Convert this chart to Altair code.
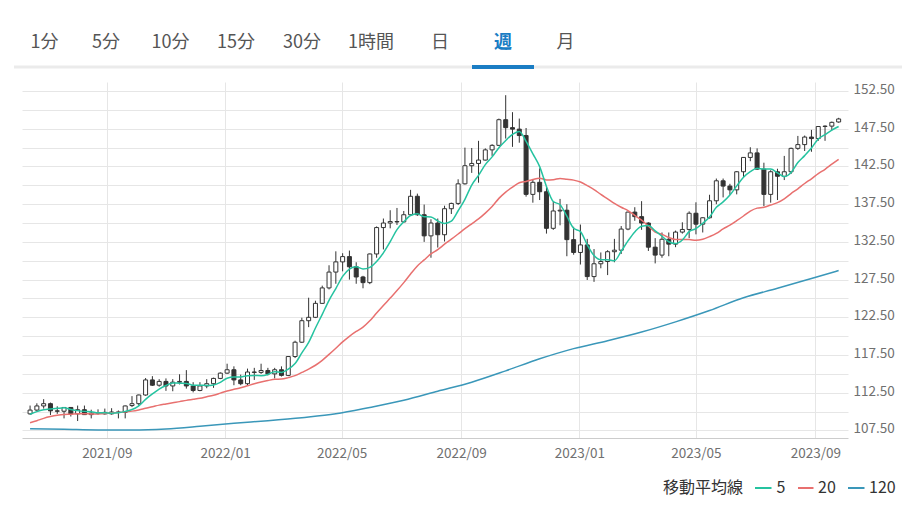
import altair as alt
import pandas as pd

FONT = "Noto Sans CJK JP"

# weekly candles (Monday of each week)
dates = [d.strftime("%Y-%m-%dT00:00:00Z") for d in pd.date_range("2021-06-14", periods=120, freq="7D")]

opens = [109.7, 110.2, 110.75, 111.05, 110.1, 110.05, 110.55, 109.7, 110.25, 109.6,
         109.8, 109.9, 109.7, 109.95, 109.9, 110.8, 111.05, 112.2, 114.2, 113.5,
         114.0, 113.4, 113.9, 114.0, 113.4, 112.8, 113.4, 113.7, 114.4, 115.1,
         115.55, 114.2, 113.7, 115.25, 115.2, 115.45, 115.0, 115.55, 114.8, 117.3,
         119.2, 122.05, 122.5, 124.35, 126.4, 128.5, 129.85, 130.55, 129.2, 127.85,
         127.1, 130.9, 134.4, 135.0, 135.2, 135.15, 136.1, 138.55, 136.1, 133.3,
         135.0, 133.45, 136.9, 137.6, 140.2, 142.6, 142.9, 143.35, 144.7, 145.3,
         148.7, 147.65, 147.45, 146.6, 138.8, 140.4, 139.15, 134.3, 136.6, 136.7,
         132.8, 131.1, 132.1, 127.9, 129.6, 129.9, 131.2, 131.4, 134.2, 136.45,
         135.85, 135.0, 131.8, 130.75, 132.85, 132.2, 133.8, 134.15, 136.3, 134.85,
         135.7, 137.95, 140.6, 139.9, 139.4, 141.8, 143.7, 144.3, 142.15, 138.8,
         141.8, 141.2, 141.8, 144.9, 145.4, 146.4, 146.2, 147.8, 147.85, 148.4]
highs = [110.8, 111.1, 111.65, 111.2, 110.7, 110.6, 110.6, 110.8, 110.8, 110.25,
         110.3, 110.4, 110.45, 110.15, 110.8, 112.05, 112.25, 114.45, 114.7, 114.3,
         114.4, 114.3, 114.95, 115.5, 113.9, 113.9, 114.3, 114.5, 115.2, 116.35,
         116.0, 114.9, 115.7, 115.8, 116.35, 115.8, 115.8, 116.0, 117.35, 119.4,
         122.45, 125.1, 124.7, 126.7, 129.4, 131.25, 131.0, 131.35, 129.8, 128.0,
         130.95, 134.55, 135.6, 136.7, 137.0, 136.6, 139.4, 138.9, 137.45, 135.5,
         135.6, 137.3, 137.7, 140.8, 145.0, 144.95, 145.9, 144.9, 145.45, 148.85,
         151.95, 149.7, 148.85, 147.6, 140.8, 142.25, 139.9, 137.85, 138.2, 137.5,
         134.5, 134.8, 132.9, 131.55, 131.1, 131.4, 132.9, 134.6, 136.5, 137.1,
         137.9, 135.1, 133.0, 133.75, 133.75, 134.0, 135.1, 136.55, 137.75, 135.75,
         138.75, 140.9, 140.9, 140.2, 141.9, 143.75, 145.05, 144.9, 143.0, 142.0,
         142.2, 143.9, 145.0, 146.55, 146.6, 147.35, 147.85, 147.95, 148.45, 148.95]
lows = [109.6, 110.1, 110.4, 109.55, 109.7, 109.1, 109.35, 108.75, 109.55, 109.1,
        109.6, 109.6, 109.6, 109.1, 109.1, 110.6, 110.8, 112.1, 113.4, 113.3,
        112.75, 112.7, 113.6, 113.05, 112.55, 112.7, 113.1, 113.15, 114.3, 115.0,
        113.5, 113.5, 113.5, 114.2, 115.0, 114.8, 114.4, 114.65, 114.7, 117.1,
        119.1, 121.2, 122.4, 124.3, 126.2, 126.95, 128.6, 127.5, 126.95, 126.35,
        126.9, 130.4, 131.5, 134.3, 134.75, 135.05, 135.95, 135.95, 132.5, 130.4,
        131.75, 132.55, 136.2, 137.4, 140.1, 141.65, 140.35, 143.3, 143.9, 145.2,
        146.2, 145.1, 145.65, 138.5, 137.7, 138.05, 133.6, 134.1, 134.7, 130.6,
        130.8, 129.5, 127.45, 127.2, 129.0, 128.1, 129.8, 130.9, 134.05, 135.3,
        134.1, 131.3, 129.65, 130.4, 130.6, 131.8, 133.6, 133.0, 133.5, 133.75,
        135.6, 137.5, 138.4, 138.75, 138.8, 141.0, 143.2, 142.05, 137.25, 137.7,
        138.05, 140.7, 141.5, 144.7, 144.55, 144.45, 145.9, 145.9, 147.3, 148.3]
closes = [110.2, 110.75, 111.05, 110.1, 110.05, 110.55, 109.7, 110.25, 109.6, 109.8,
          109.85, 109.7, 109.95, 109.9, 110.75, 111.05, 112.2, 114.2, 113.5, 114.0,
          113.4, 113.9, 114.0, 113.4, 112.8, 113.4, 113.7, 114.4, 115.1, 115.55,
          114.2, 113.7, 115.25, 115.2, 115.45, 115.0, 115.55, 114.8, 117.3, 119.2,
          122.05, 122.5, 124.35, 126.4, 128.5, 129.85, 130.55, 129.2, 127.85, 127.1,
          130.9, 134.4, 135.0, 135.2, 135.15, 136.1, 138.55, 136.1, 133.3, 135.0,
          133.45, 136.9, 137.6, 140.2, 142.6, 142.9, 143.35, 144.7, 145.3, 148.7,
          147.65, 147.45, 146.6, 138.8, 140.4, 139.15, 134.3, 136.6, 136.7, 132.8,
          131.1, 132.1, 127.9, 129.6, 129.9, 131.2, 131.4, 134.2, 136.45, 135.85,
          135.0, 131.8, 130.75, 132.85, 132.2, 133.8, 134.15, 136.3, 134.85, 135.7,
          137.95, 140.6, 139.9, 139.4, 141.8, 143.7, 144.3, 142.15, 138.8, 141.8,
          141.2, 141.8, 144.9, 145.4, 146.4, 146.2, 147.8, 147.85, 148.35, 148.8]

# closes of the weeks before the window (needed for the moving averages)
pre_dates = [d.strftime("%Y-%m-%dT00:00:00Z") for d in pd.date_range("2021-02-01", periods=19, freq="7D")]
pre_closes = [105.39, 104.94, 105.45, 106.57, 108.33, 109.04, 108.88, 109.64, 110.61, 109.66,
              108.78, 107.88, 109.31, 108.58, 109.35, 108.96, 109.85, 109.52, 109.67]

# 120-week moving average
ma120_dates = dates[::5] + [dates[119]]
ma120_vals = [107.72, 107.65, 107.56, 107.56, 107.7, 108.05, 108.45, 108.8, 109.2, 109.7,
              110.55, 111.5, 112.7, 113.9, 115.4, 117.0, 118.35, 119.4, 120.55, 121.9,
              123.4, 125.1, 126.35, 127.65, 128.7]

tabs = ["1分", "5分", "10分", "15分", "30分", "1時間", "日", "週", "月"]
tab_x = [22.6, 84, 148.5, 214, 280, 349, 418, 481, 543.5]

C_MA5 = "#25c3a0"
C_MA20 = "#e8706f"
C_MA120 = "#3a97b9"
C_CANDLE = "#333333"

cdf = pd.DataFrame({"date": dates, "open": opens, "high": highs, "low": lows, "close": closes})
mdf = pd.DataFrame({"date": pre_dates + dates, "close": pre_closes + closes,
                    "idx": list(range(-19, 120))})
m120 = pd.DataFrame({"date": ma120_dates, "ma120": ma120_vals})

x_scale = alt.Scale(type="utc",
                    domain=[alt.DateTime(year=2021, month=6, date=10, hours=20, utc=True),
                            alt.DateTime(year=2023, month=9, date=29, hours=12, utc=True)])
x_axis = alt.Axis(values=[alt.DateTime(year=y, month=m, date=1, utc=True)
                          for y, m in [(2021, 9), (2022, 1), (2022, 5), (2022, 9),
                                       (2023, 1), (2023, 5), (2023, 9)]],
                  labelExpr="utcFormat(datum.value, '%Y/%m')", title=None, grid=True, ticks=False,
                  domain=True, domainColor="#cccccc", gridColor="#e6e6e6",
                  labelColor="#707070", labelFontSize=13.5, labelFont=FONT, labelPadding=8)
y_scale = alt.Scale(domain=[106.5, 153.7], nice=False, zero=False)
y_axis = alt.Axis(orient="right", values=[107.5 + 2.5 * k for k in range(19)],
                  labelExpr="abs((datum.value - 107.5) % 5) < 0.01 ? format(datum.value, '.2f') : ''",
                  title=None, grid=True, ticks=False, domain=False, gridColor="#e6e6e6",
                  labelColor="#707070", labelFontSize=13.5, labelFont=FONT, labelPadding=5,
                  labelOffset=-1.5)


def X():
    return alt.X("date:T", scale=x_scale, axis=x_axis)


wick = alt.Chart(cdf).mark_rule(color=C_CANDLE, strokeWidth=1).encode(
    x=X(), y=alt.Y("low:Q", scale=y_scale, axis=y_axis), y2="high:Q")
body = alt.Chart(cdf).mark_bar(size=4, stroke=C_CANDLE, strokeWidth=1).encode(
    x=X(), y=alt.Y("open:Q", scale=y_scale, axis=y_axis), y2="close:Q",
    fill=alt.condition("datum.close >= datum.open", alt.value("#ffffff"), alt.value(C_CANDLE)))

ma_base = alt.Chart(mdf).transform_window(
    ma5="mean(close)", frame=[-4, 0], sort=[alt.SortField("idx")]
).transform_window(
    ma20="mean(close)", frame=[-19, 0], sort=[alt.SortField("idx")]
).transform_filter("datum.idx >= 0")

ma5 = ma_base.mark_line(color=C_MA5, strokeWidth=1.5, interpolate="monotone").encode(
    x=X(), y=alt.Y("ma5:Q", scale=y_scale, axis=y_axis))
ma20 = ma_base.mark_line(color=C_MA20, strokeWidth=1.5, interpolate="monotone").encode(
    x=X(), y=alt.Y("ma20:Q", scale=y_scale, axis=y_axis))
ma120 = alt.Chart(m120).mark_line(color=C_MA120, strokeWidth=1.5, interpolate="monotone").encode(
    x=X(), y=alt.Y("ma120:Q", scale=y_scale, axis=y_axis))

ONE = alt.InlineData(values=[{"k": 1}])


def text(t, x, y, size, color, align="center", weight="normal"):
    return alt.Chart(ONE).mark_text(text=t, fontSize=size, color=color, align=align,
                                    baseline="middle", font=FONT, fontWeight=weight
                                    ).encode(x=alt.value(x), y=alt.value(y))


def rule(x1, x2, y, color, w):
    return alt.Chart(ONE).mark_rule(color=color, strokeWidth=w).encode(
        x=alt.value(x1), x2=alt.value(x2), y=alt.value(y))


deco = [rule(-8, 880, -15, "#ebebeb", 3), rule(450, 512, -15, "#1a7dc4", 4)]
for t, xx in zip(tabs, tab_x):
    if t == "週":
        deco.append(text(t, xx, -39, 18, "#1a7dc4", weight="bold"))
    else:
        deco.append(text(t, xx, -39, 18, "#555555"))

# legend
LY = 406
deco += [
    text("移動平均線", 721, LY, 16, "#333333", align="right"),
    rule(733, 749.5, LY, C_MA5, 2),
    text("5", 754.5, LY, 16, "#333333", align="left"),
    rule(776, 791.5, LY, C_MA20, 2),
    text("20", 796, LY, 16, "#333333", align="left"),
    rule(826, 842.5, LY, C_MA120, 2),
    text("120", 847, LY, 16, "#333333", align="left"),
]

chart = alt.layer(wick, body, ma120, ma20, ma5, *deco).properties(
    width=826, height=356,
    padding={"left": 14, "top": 74, "right": 54, "bottom": 61},
    autosize=alt.AutoSizeParams(type="none"),
).configure_view(stroke=None)

chart.save("out.html", embed_options={"renderer": "svg", "actions": False})
